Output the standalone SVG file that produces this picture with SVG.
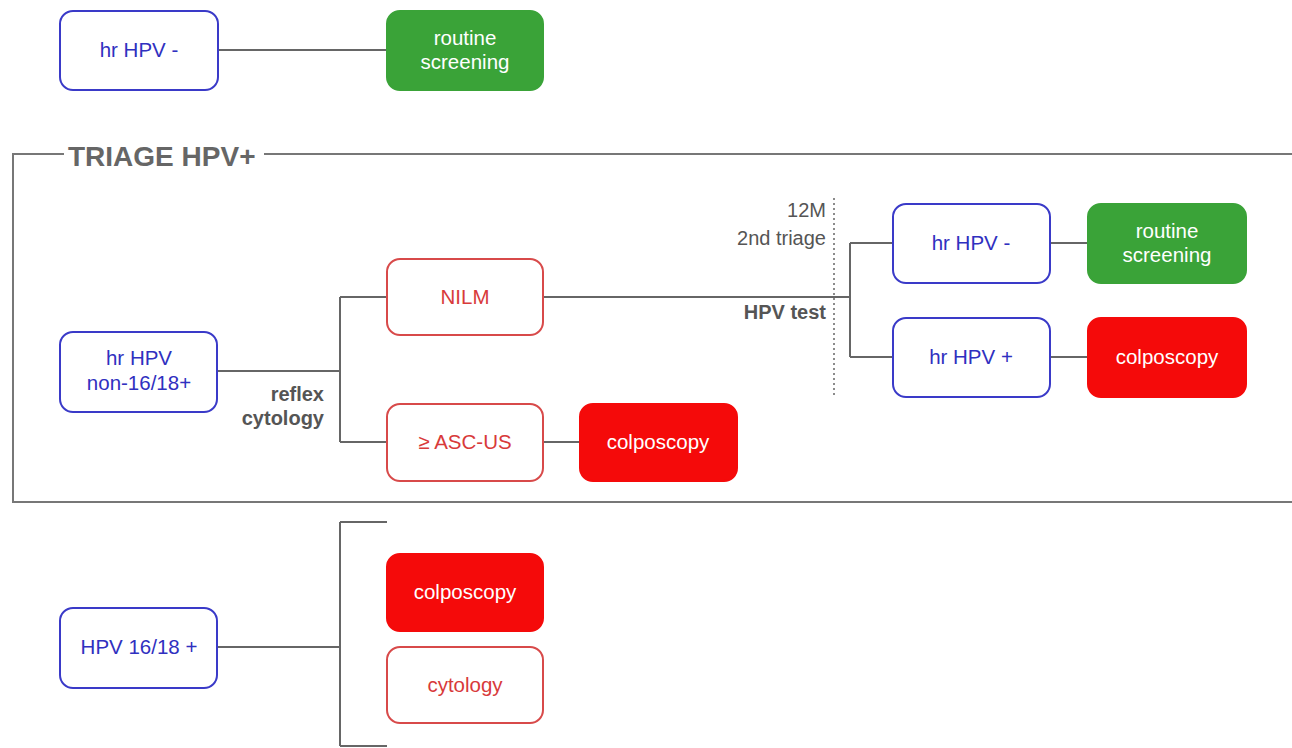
<svg xmlns="http://www.w3.org/2000/svg" width="1292" height="748" viewBox="0 0 1292 748">
<style>
text{font-family:"Liberation Sans",Arial,sans-serif;font-size:20.5px;text-anchor:middle}
.blue rect{fill:#fff;stroke:#3a3ac8;stroke-width:2}
.blue text{fill:#3030c0}
.rout rect{fill:#fff;stroke:#d84a4a;stroke-width:2}
.rout text{fill:#d83a3a}
.rfill rect{fill:#f50a0a;stroke:#f50a0a;stroke-width:2}
.rfill text{fill:#fff}
.green rect{fill:#3aa338;stroke:#3aa338;stroke-width:2}
.green text{fill:#fff}
.conn path{fill:none;stroke:#666;stroke-width:2}
.lbl{fill:#555;font-size:20px;text-anchor:end}
.lblb{fill:#555;font-size:20px;text-anchor:end;font-weight:bold}
</style>
<rect width="1292" height="748" fill="#fff"/>
<g id="frame">
<path d="M264 154 H1292 M64 154 H13 V502 H1292" fill="none" stroke="#777" stroke-width="2"/>
<text x="68" y="166" style="font-size:28px;font-weight:bold;fill:#666;text-anchor:start">TRIAGE HPV+</text>
</g>
<g id="connectors" class="conn">
<path d="M218 50 H387"/>
<path d="M217 371 H340 M340 297 V442 M340 297 H387 M340 442 H387"/>
<path d="M543 442 H580"/>
<path d="M543 297 H850 M850 243 V357 M850 243 H893 M850 357 H893"/>
<path d="M1050 243 H1088 M1050 357 H1088"/>
<path d="M217 647 H340 M340 522 V746 M340 522 H387 M340 746 H387"/>
<path d="M834 198 V395" style="stroke-dasharray:2 3;stroke-width:1.5"/>
</g>
<g id="labels">
<text class="lbl" x="826" y="217">12M</text>
<text class="lbl" x="826" y="245">2nd triage</text>
<text class="lblb" x="826" y="319">HPV test</text>
<text class="lblb" x="324" y="401">reflex</text>
<text class="lblb" x="324" y="425">cytology</text>
</g>
<g id="n-hpvneg" class="blue"><rect x="60" y="11" width="158" height="79" rx="13"/><text x="139" y="57">hr HPV -</text></g>
<g id="n-routine1" class="green"><rect x="387" y="11" width="156" height="79" rx="13"/><text x="465" y="45">routine</text><text x="465" y="69">screening</text></g>
<g id="n-non1618" class="blue"><rect x="60" y="332" width="157" height="80" rx="13"/><text x="139" y="365">hr HPV</text><text x="139" y="390">non-16/18+</text></g>
<g id="n-nilm" class="rout"><rect x="387" y="259" width="156" height="76" rx="13"/><text x="465" y="304">NILM</text></g>
<g id="n-ascus" class="rout"><rect x="387" y="404" width="156" height="77" rx="13"/><text x="465" y="449">≥ ASC-US</text></g>
<g id="n-colpo1" class="rfill"><rect x="580" y="404" width="157" height="77" rx="13"/><text x="658" y="449">colposcopy</text></g>
<g id="n-hpvneg2" class="blue"><rect x="893" y="204" width="157" height="79" rx="13"/><text x="971" y="250">hr HPV -</text></g>
<g id="n-hpvpos2" class="blue"><rect x="893" y="318" width="157" height="79" rx="13"/><text x="971" y="364">hr HPV +</text></g>
<g id="n-routine2" class="green"><rect x="1088" y="204" width="158" height="79" rx="13"/><text x="1167" y="238">routine</text><text x="1167" y="262">screening</text></g>
<g id="n-colpo2" class="rfill"><rect x="1088" y="318" width="158" height="79" rx="13"/><text x="1167" y="364">colposcopy</text></g>
<g id="n-1618" class="blue"><rect x="60" y="608" width="157" height="80" rx="13"/><text x="139" y="654">HPV 16/18 +</text></g>
<g id="n-colpo3" class="rfill"><rect x="387" y="554" width="156" height="77" rx="13"/><text x="465" y="599">colposcopy</text></g>
<g id="n-cyto" class="rout"><rect x="387" y="647" width="156" height="76" rx="13"/><text x="465" y="692">cytology</text></g>
</svg>
